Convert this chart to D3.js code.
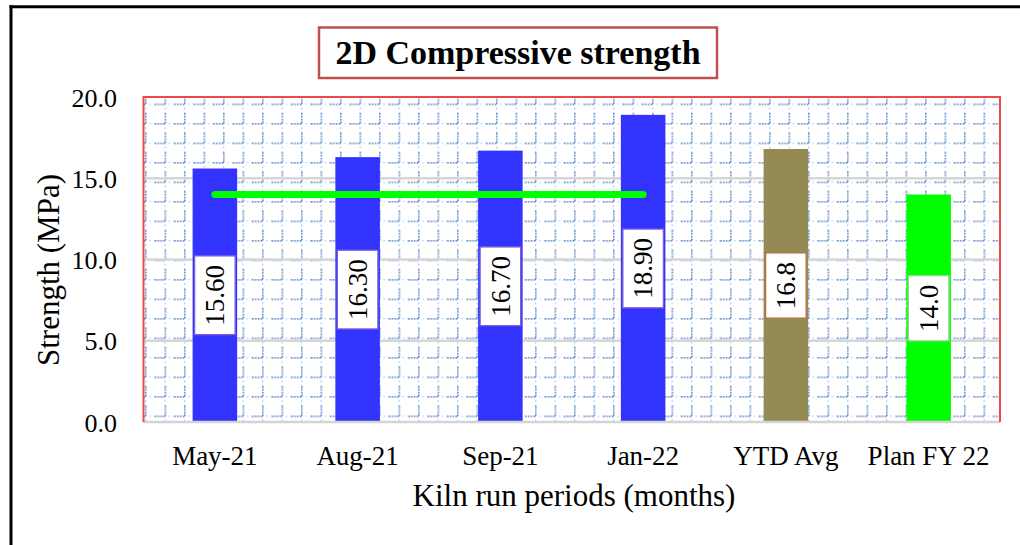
<!DOCTYPE html>
<html><head><meta charset="utf-8">
<script src="https://cdn.jsdelivr.net/npm/d3@7"></script>
<style>
body{margin:0;background:#fff}
svg{display:block}
text{font-family:"Liberation Serif","Times New Roman",serif;fill:#000}
</style>
</head><body>
<svg id="c" width="1020" height="545"></svg>
<script>
// ---- data ----
const categories = ["May-21", "Aug-21", "Sep-21", "Jan-22", "YTD Avg", "Plan FY 22"];
const strengthValues = [15.6, 16.3, 16.7, 18.9, 16.8, 14.0];
const valueLabels = ["15.60", "16.30", "16.70", "18.90", "16.8", "14.0"];
const planLineCategories = ["May-21", "Aug-21", "Sep-21", "Jan-22"];
const planLineValues = [14.0, 14.0, 14.0, 14.0];
const yTicks = [0, 5, 10, 15, 20];
const yTickLabels = ["0.0", "5.0", "10.0", "15.0", "20.0"];
const chartTitle = "2D Compressive strength";
const xTitle = "Kiln run periods (months)";
const yTitle = "Strength (MPa)";

// ---- styles ----
const barColors = ["#3333ff", "#3333ff", "#3333ff", "#3333ff", "#948a54", "#00ff00"];
const labelBorders = ["#7b5fd6", "#7b5fd6", "#7b5fd6", "#7b5fd6", "#b8703e", "#8fd88f"];
const FONT = "Liberation Serif";

const svg = d3.select("#c");
const L = 143.5, R = 1000, T = 97, B = 422;

const x = d3.scaleBand().domain(categories).range([L, R]).paddingInner(0.688).paddingOuter(0.344);
const y = d3.scaleLinear().domain([0, 20]).range([B, T]);

// outer frame (top and left edges visible)
svg.append("line").attr("x1", 9.5).attr("x2", 1020).attr("y1", 6.8).attr("y2", 6.8)
  .attr("stroke", "#000").attr("stroke-width", 3);
svg.append("line").attr("x1", 11).attr("x2", 11).attr("y1", 5.3).attr("y2", 545)
  .attr("stroke", "#000").attr("stroke-width", 3);

// title
svg.append("rect").attr("x", 319).attr("y", 27.5).attr("width", 398).attr("height", 50.5)
  .attr("fill", "#fff").attr("stroke", "#c0504d").attr("stroke-width", 2.5);
svg.append("text").attr("x", 518).attr("y", 64).attr("text-anchor", "middle")
  .attr("font-family", FONT).attr("font-size", 34).attr("font-weight", "bold").text(chartTitle);

// dotted-grid pattern fill of plot area
const defs = svg.append("defs");
const cell = 19.5;
const pat = defs.append("pattern").attr("id", "grid").attr("patternUnits", "userSpaceOnUse")
  .attr("x", L + 1.5).attr("y", T + 6.5).attr("width", cell).attr("height", cell);
const dotCol = "#3f78c8";
// horizontal line: sparse then dense
pat.append("line").attr("x1", 0).attr("x2", cell / 2).attr("y1", 0.7).attr("y2", 0.7)
  .attr("stroke", dotCol).attr("stroke-width", 1.1).attr("stroke-dasharray", "1 3.5").attr("opacity", 0.7);
pat.append("line").attr("x1", cell / 2).attr("x2", cell).attr("y1", 0.8).attr("y2", 0.8)
  .attr("stroke", dotCol).attr("stroke-width", 1.7).attr("stroke-dasharray", "1.6 1.2").attr("opacity", 0.8);
// vertical line: sparse then dense
pat.append("line").attr("x1", 0.7).attr("x2", 0.7).attr("y1", 0).attr("y2", cell / 2)
  .attr("stroke", dotCol).attr("stroke-width", 1.1).attr("stroke-dasharray", "1 3.5").attr("opacity", 0.7);
pat.append("line").attr("x1", 0.8).attr("x2", 0.8).attr("y1", cell / 2).attr("y2", cell)
  .attr("stroke", dotCol).attr("stroke-width", 1.7).attr("stroke-dasharray", "1.6 1.2").attr("opacity", 0.8);

svg.append("rect").attr("x", L).attr("y", T).attr("width", R - L).attr("height", B - T)
  .attr("fill", "url(#grid)");

// major gridlines
svg.append("g").selectAll("line").data(yTicks.filter(t => t > 0 && t < 20)).join("line")
  .attr("x1", L).attr("x2", R).attr("y1", d => y(d)).attr("y2", d => y(d))
  .attr("stroke", "#d6d6d6").attr("stroke-width", 2.5);

// bars
svg.append("g").selectAll("rect").data(categories).join("rect")
  .attr("x", d => x(d)).attr("width", x.bandwidth())
  .attr("y", (d, i) => y(strengthValues[i])).attr("height", (d, i) => y(0) - y(strengthValues[i]))
  .attr("fill", (d, i) => barColors[i]);

// x axis line
svg.append("line").attr("x1", L).attr("x2", R).attr("y1", y(0)).attr("y2", y(0))
  .attr("stroke", "#d4d4d4").attr("stroke-width", 2.6);

// plot border (red) left/top/right
svg.append("path")
  .attr("d", `M${L},${y(0)} L${L},${T} L${R},${T} L${R},${y(0)}`)
  .attr("fill", "none").attr("stroke", "#f04848").attr("stroke-width", 2);

// plan line
const line = d3.line().x((d, i) => x(planLineCategories[i]) + x.bandwidth() / 2).y(d => y(d));
svg.append("path").datum(planLineValues).attr("d", line)
  .attr("fill", "none").attr("stroke", "#00ff00").attr("stroke-width", 7).attr("stroke-linecap", "round");

// data labels (rotated, boxed)
const fsLab = 27;
const labG = svg.append("g");
categories.forEach((c, i) => {
  const cx = x(c) + x.bandwidth() / 2;
  const cy = y(strengthValues[i] / 2);
  const g = labG.append("g").attr("transform", `translate(${cx},${cy}) rotate(-90)`);
  const t = g.append("text").attr("text-anchor", "middle").attr("y", fsLab * 0.34)
    .attr("font-family", FONT).attr("font-size", fsLab).text(valueLabels[i]);
  const w = t.node().getComputedTextLength();
  const bw = w + 18, bh = x.bandwidth() - 4;
  g.insert("rect", "text").attr("x", -bw / 2).attr("y", -bh / 2).attr("width", bw).attr("height", bh)
    .attr("fill", "#fff").attr("stroke", labelBorders[i]).attr("stroke-width", 1.3);
});

// y tick labels
svg.append("g").selectAll("text").data(yTicks).join("text")
  .attr("x", 117).attr("y", d => y(d) + 9.5).attr("text-anchor", "end")
  .attr("font-family", FONT).attr("font-size", 26).text((d, i) => yTickLabels[i]);

// x tick labels
svg.append("g").selectAll("text").data(categories).join("text")
  .attr("x", d => x(d) + x.bandwidth() / 2).attr("y", 465).attr("text-anchor", "middle")
  .attr("font-family", FONT).attr("font-size", 27).text(d => d);

// axis titles
svg.append("text").attr("x", 574).attr("y", 506).attr("text-anchor", "middle")
  .attr("font-family", FONT).attr("font-size", 31).text(xTitle);
svg.append("text").attr("transform", "translate(59,270) rotate(-90)").attr("text-anchor", "middle")
  .attr("font-family", FONT).attr("font-size", 31).text(yTitle);
</script>
</body></html>
